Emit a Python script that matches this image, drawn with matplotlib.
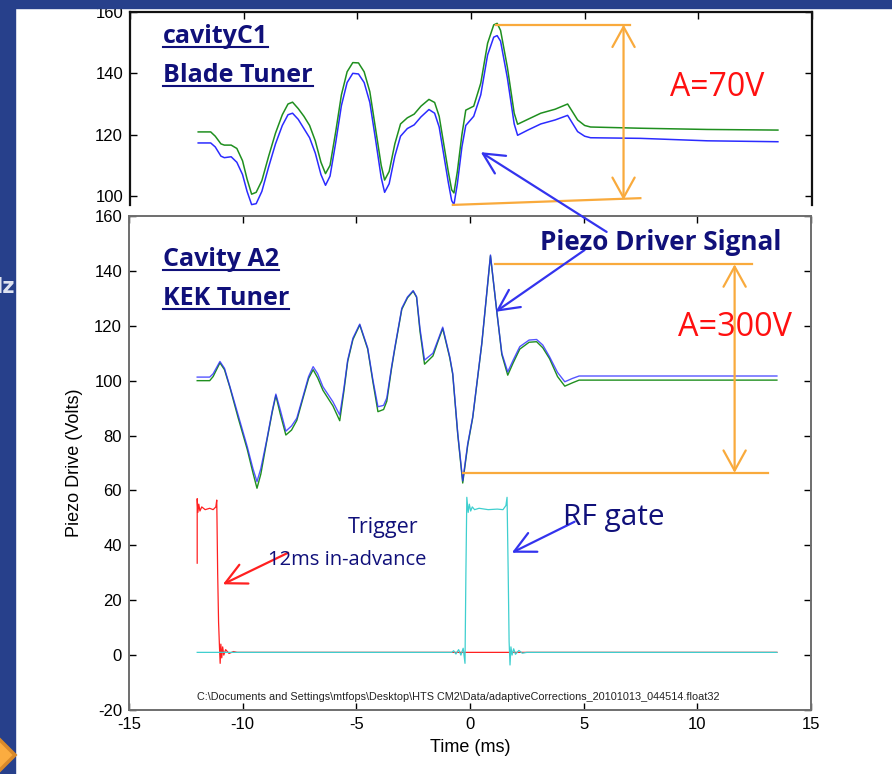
import numpy as np
import matplotlib.pyplot as plt
from matplotlib.patches import Rectangle, Polygon
from matplotlib.lines import Line2D

plt.rcParams['axes.unicode_minus'] = False

W, H = 892, 774

# cavity C1, blade tuner: piezo drive of the two channels (V) against time (ms)
c1_t = [-12.0, -11.45, -11.25, -11.0, -10.85, -10.55, -10.3, -10.05, -9.85, -9.65,
        -9.45, -9.2, -8.9, -8.6, -8.3, -8.05, -7.85, -7.6, -7.35, -7.1,
        -6.85, -6.6, -6.4, -6.2, -5.95, -5.7, -5.45, -5.2, -4.95, -4.7,
        -4.45, -4.2, -3.95, -3.8, -3.6, -3.35, -3.1, -2.8, -2.5, -2.2,
        -1.85, -1.6, -1.4, -1.2, -1.0, -0.85, -0.75, -0.6, -0.4, -0.23,
        0.12, 0.43, 0.73, 1.0, 1.15, 1.3, 1.6, 1.9, 2.05, 2.5,
        3.07, 3.7, 4.25, 4.69, 5.0, 5.26, 7.46, 10.4, 13.5]
c1_green = [120.9, 120.9, 119.5, 117.0, 116.6, 116.6, 115.5, 111.5, 105.5, 100.6,
            101.2, 105.0, 113.0, 120.5, 126.5, 130.0, 130.6, 128.5, 126.0, 123.0,
            118.0, 111.0, 107.3, 110.0, 121.0, 133.0, 140.5, 143.5, 143.4, 140.5,
            134.0, 122.0, 110.0, 105.2, 108.0, 117.0, 123.5, 125.5, 126.7, 129.3,
            131.5, 130.5, 126.0, 117.0, 108.0, 102.0, 101.0, 108.0, 120.0, 128.0,
            129.3, 136.8, 149.8, 155.8, 156.3, 154.0, 142.0, 127.0, 123.4, 125.0,
            127.0, 128.3, 130.0, 124.8, 123.0, 122.5, 122.1, 121.7, 121.5]
c1_blue = [117.3, 117.3, 116.0, 113.0, 112.5, 112.8, 111.0, 107.0, 101.5, 97.2,
           97.5, 101.5, 109.5, 117.0, 123.0, 126.5, 127.0, 125.0, 122.0, 119.0,
           114.0, 107.0, 103.5, 106.5, 117.5, 129.5, 137.0, 140.0, 139.8, 137.0,
           130.5, 118.5, 106.0, 101.2, 104.0, 113.0, 119.5, 122.0, 123.2, 125.8,
           128.2, 127.0, 122.5, 113.5, 104.5, 98.5, 97.2, 104.0, 116.0, 123.0,
           126.0, 133.0, 146.0, 151.8, 152.3, 150.5, 138.5, 123.5, 119.8, 121.5,
           123.5, 124.8, 126.3, 121.0, 119.5, 119.0, 118.8, 118.0, 117.7]

# cavity A2, KEK tuner
a2_t = [-12.0, -11.45, -11.3, -11.0, -10.8, -10.56, -10.2, -9.8, -9.55, -9.37,
        -9.2, -8.94, -8.7, -8.54, -8.35, -8.1, -7.85, -7.62, -7.35, -7.1,
        -6.9, -6.7, -6.47, -6.03, -5.73, -5.55, -5.38, -5.15, -4.85, -4.5,
        -4.27, -4.05, -3.8, -3.66, -3.45, -3.3, -3.0, -2.75, -2.5, -2.35,
        -2.2, -2.0, -1.63, -1.4, -1.2, -0.89, -0.76, -0.54, -0.32, -0.1,
        0.12, 0.52, 0.9, 1.18, 1.4, 1.66, 1.9, 2.19, 2.6, 2.93,
        3.2, 3.5, 3.85, 4.17, 4.5, 4.8, 7.0, 13.5]
a2_blue = [101.3, 101.3, 102.5, 107.0, 104.5, 97.8, 87.5, 76.0, 68.0, 63.2,
           68.0, 78.4, 89.0, 95.1, 89.5, 81.6, 83.5, 86.3, 94.1, 101.5,
           105.1, 102.5, 97.8, 92.3, 87.5, 97.0, 107.5, 115.5, 120.6, 111.9,
           100.2, 90.5, 91.0, 93.7, 105.0, 112.4, 126.4, 130.5, 132.8, 130.6,
           119.0, 107.5, 110.0, 115.0, 119.5, 108.7, 102.7, 80.9, 63.5, 77.0,
           86.8, 113.7, 145.8, 125.1, 110.0, 103.2, 107.5, 112.4, 114.8, 115.0,
           113.0, 108.7, 103.0, 99.6, 100.8, 101.7, 101.7, 101.7]
a2_green = [100.0, 100.0, 101.5, 106.5, 104.0, 97.5, 86.5, 75.0, 66.5, 60.8,
            66.0, 78.0, 88.5, 94.6, 88.0, 80.2, 82.0, 85.5, 93.5, 100.8,
            104.0, 101.0, 96.5, 90.8, 85.4, 96.0, 107.0, 115.0, 120.3, 111.5,
            99.5, 88.7, 89.5, 92.5, 104.5, 112.0, 126.0, 130.2, 132.6, 130.4,
            118.0, 106.0, 109.0, 114.5, 119.0, 108.3, 102.3, 80.5, 62.7, 76.5,
            86.5, 113.5, 145.5, 125.1, 109.5, 102.0, 106.5, 111.5, 114.0, 114.2,
            112.0, 108.0, 101.5, 98.0, 99.2, 100.2, 100.2, 100.2]

# trigger pulse (red) and RF gate (cyan)
trig_t = [-12.0, -12.0, -11.97, -11.93, -11.88, -11.8, -11.65, -11.45, -11.3, -11.18,
          -11.14, -11.1, -11.06, -11.02, -10.99, -10.96, -10.92, -10.88, -10.83, -10.75,
          -10.6, -10.4, -10.25, 13.5]
trig_v = [33.5, 57.0, 52.0, 55.0, 52.5, 54.0, 53.0, 53.5, 53.0, 54.0,
          56.5, 30.0, 12.0, 3.0, -3.0, 4.0, -1.0, 3.0, 0.0, 2.0,
          0.6, 1.3, 1.0, 1.0]
rf_t = [-12.0, -0.8, -0.72, -0.62, -0.5, -0.4, -0.3, -0.22, -0.18, -0.14,
        -0.08, -0.03, 0.03, 0.1, 0.2, 0.4, 0.8, 1.2, 1.45, 1.58,
        1.63, 1.68, 1.72, 1.76, 1.8, 1.85, 1.92, 2.0, 2.15, 2.3,
        2.5, 13.5]
rf_v = [1.0, 1.0, 1.6, 0.4, 2.0, 0.0, 2.5, -3.0, 30.0, 57.5,
        52.0, 55.0, 52.5, 54.0, 53.0, 53.5, 53.0, 53.2, 53.0, 54.5,
        57.5, 30.0, 5.0, -3.6, 3.0, 0.0, 2.3, 0.3, 1.7, 0.7,
        1.0, 1.0]

# peak-to-peak markers (time, volts)
c1_top = (1.1, 155.9)
c1_bot = (-0.8, 97.1)
c1_bot_end = (7.45, 99.3)
c1_arrow_t = 6.71
a2_top = (1.1, 142.4)
a2_bot = (-0.32, 66.4)
a2_arrow_t = 11.64

xticks = [-15, -10, -5, 0, 5, 10, 15]

navy = '#10107a'
orange = '#f9aa3c'
slide_blue = '#27408b'
green = '#1f8f1f'
blue = '#2b2bff'
cyan = '#3fcfcf'
red = '#ff2020'
hand = 'Open Sans'


def fx(px):
    return px / W


def fy(py):
    return 1 - py / H


fig = plt.figure(figsize=(W / 100, H / 100), dpi=100)
fig.patch.set_facecolor('white')

ax1 = fig.add_axes([fx(130), fy(205), 682 / W, 193 / H])
ax2 = fig.add_axes([fx(129), fy(710), 682 / W, 494 / H])
for ax in (ax1, ax2):
    ax.set_facecolor('none')
    ax.set_xlim(-15, 15)
    ax.set_xticks(xticks)
    ax.tick_params(direction='in', length=5, width=1, labelsize=12, pad=5,
                   top=True, right=True)

# top panel
ax1.plot(c1_t, c1_blue, color=blue, lw=1.1, clip_on=False)
ax1.plot(c1_t, c1_green, color=green, lw=1.1, clip_on=False)
ax1.set_ylim(97.07, 160)
ax1.set_yticks([100, 120, 140, 160])
ax1.tick_params(axis='x', bottom=False, labelbottom=False)
ax1.spines['bottom'].set_visible(False)
for s in ('top', 'left', 'right'):
    ax1.spines[s].set_color('#111111')
    ax1.spines[s].set_linewidth(1.6)
for lab in ax1.get_yticklabels():
    lab.set_fontfamily('Liberation Sans')

# bottom panel
ax2.plot(trig_t, trig_v, color=red, lw=0.9)
ax2.plot(rf_t, rf_v, color=cyan, lw=0.9)
ax2.plot(a2_t, a2_green, color=green, lw=1.0)
ax2.plot(a2_t, a2_blue, color=blue, lw=1.0, alpha=0.8)
ax2.set_ylim(-20, 160)
ax2.set_yticks(np.arange(-20, 161, 20))
for s in ax2.spines.values():
    s.set_color('#6e6e6e')
    s.set_linewidth(1.4)
for lab in ax2.get_xticklabels() + ax2.get_yticklabels():
    lab.set_fontfamily('Liberation Sans')
ax2.set_xlabel('Time (ms)', fontsize=13, family='Liberation Sans', labelpad=5)
ax2.set_ylabel('Piezo Drive (Volts)', fontsize=13, family='Liberation Sans', labelpad=8)

# amplitude markers
ax1.plot([c1_top[0], 7.0], [c1_top[1], c1_top[1]], color=orange, lw=1.6, clip_on=False)
ax1.plot([c1_bot[0], c1_bot_end[0]], [c1_bot[1], c1_bot_end[1]], color=orange, lw=1.6, clip_on=False)
ax1.annotate('', xy=(c1_arrow_t, c1_top[1]), xytext=(c1_arrow_t, 98.7),
             arrowprops=dict(arrowstyle='<->,head_length=1.45,head_width=0.8',
                             mutation_scale=10, color=orange, lw=1.6,
                             shrinkA=0, shrinkB=0),
             annotation_clip=False)
ax2.plot([a2_top[0], 12.4], [a2_top[1], a2_top[1]], color=orange, lw=1.6)
ax2.plot([a2_bot[0], 13.1], [a2_bot[1], a2_bot[1]], color=orange, lw=1.6)
ax2.annotate('', xy=(a2_arrow_t, a2_top[1]), xytext=(a2_arrow_t, a2_bot[1]),
             arrowprops=dict(arrowstyle='<->,head_length=1.45,head_width=0.8',
                             mutation_scale=10, color=orange, lw=1.6,
                             shrinkA=0, shrinkB=0),
             annotation_clip=False)

# pointer arrows
head = dict(arrowstyle='->,head_length=1.5,head_width=0.75', mutation_scale=10,
            lw=1.6, shrinkA=0, shrinkB=0)
ax2.annotate('', xy=(0.43, 114.3), xycoords=ax1.transData,
             xytext=(6.01, 154.2), textcoords='data',
             arrowprops=dict(color='#3333ee', **head), annotation_clip=False)
ax2.annotate('', xy=(1.13, 125.1), xytext=(5.04, 147.6),
             arrowprops=dict(color='#3333ee', **head), annotation_clip=False)
ax2.annotate('', xy=(-10.87, 25.8), xytext=(-8.0, 37.3),
             arrowprops=dict(color=red, **head), annotation_clip=False)
ax2.annotate('', xy=(1.84, 37.3), xytext=(4.6, 48.6),
             arrowprops=dict(color='#3333ee', **head), annotation_clip=False)

# slide texts
titles = []
for txt, y in (('cavityC1', 43), ('Blade Tuner', 82), ('Cavity A2', 266), ('KEK Tuner', 305)):
    titles.append((fig.text(fx(163), fy(y), txt, color=navy, fontsize=18,
                            fontweight='bold', family=hand, va='baseline'), y))
fig.text(fx(540), fy(250), 'Piezo Driver Signal', color=navy, fontsize=18.8,
         fontweight='bold', family=hand, va='baseline')
fig.text(fx(670), fy(96), 'A=70V', color='#ff1010', fontsize=23, family=hand, va='baseline')
fig.text(fx(678), fy(336), 'A=300V', color='#ff1010', fontsize=23.3, family=hand, va='baseline')
fig.text(fx(348), fy(533), 'Trigger', color=navy, fontsize=15.5, family=hand, va='baseline')
fig.text(fx(268), fy(565), '12ms in-advance', color=navy, fontsize=14.5, family=hand, va='baseline')
fig.text(fx(563), fy(525), 'RF gate', color=navy, fontsize=21.5, family=hand, va='baseline')
fig.text(fx(197), fy(700),
         r'C:\Documents and Settings\mtfops\Desktop\HTS CM2\Data/adaptiveCorrections_20101013_044514.float32',
         fontsize=7.85, family='Liberation Sans', color='#222222', va='baseline')

# underline the panel titles
fig.canvas.draw()
r = fig.canvas.get_renderer()
for t, y in titles:
    bb = t.get_window_extent(r)
    fig.add_artist(Line2D([bb.x0 / W, bb.x1 / W], [fy(y + 4), fy(y + 4)],
                          color=navy, lw=1.5, transform=fig.transFigure))

# slide frame: blue bands, cut-off heading text and corner ornament
fig.add_artist(Rectangle((0, fy(8)), 1, 8 / H, transform=fig.transFigure,
                         color=slide_blue, zorder=20))
fig.add_artist(Rectangle((0, 0), fx(15), 1, transform=fig.transFigure,
                         color=slide_blue, zorder=20))
fig.text(fx(15), fy(287), 'Hz', color='#dfe3f0', fontsize=15, fontweight='bold',
         family='DejaVu Sans', ha='right', va='center', zorder=21)
diamond = [(15, 755), (-25, 715), (-65, 755), (-25, 795)]
fig.add_artist(Polygon([(fx(x), fy(y)) for x, y in diamond], closed=True,
                       transform=fig.transFigure, facecolor='#fbac40',
                       edgecolor='#d9892a', lw=2.5, zorder=22))

fig.savefig('out.png', dpi=100)
